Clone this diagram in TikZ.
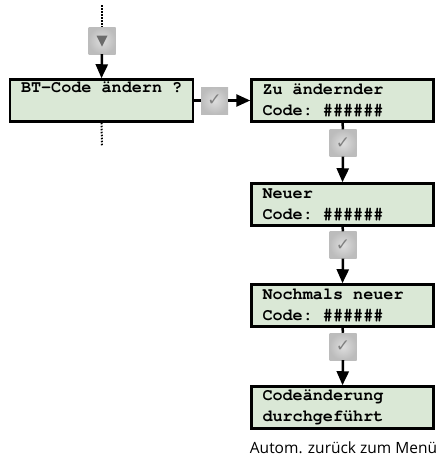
\documentclass[tikz,border=0pt]{standalone}
\usepackage{fontspec}
\usetikzlibrary{arrows.meta,calc}
\newfontfamily\lcdfont{TeX Gyre Cursor}[WordSpace={1,0,0},PunctuationSpace=WordSpace]
\newfontfamily\symfont{DejaVu Sans}
\setmainfont{Open Sans}
\newcommand\msp{\hspace*{0.6em}}
\definecolor{lcdfill}{HTML}{DAE8D6}
\definecolor{keyout}{HTML}{BCBCBC}
\definecolor{keyin}{HTML}{DEDEDE}
\tikzset{
  lcd/.style={draw=black, line width=2.5pt, fill=lcdfill, rectangle, minimum height=42pt,
    text width=160pt, inner xsep=11pt, inner ysep=0pt, align=left,
    font=\lcdfont\bfseries\fontsize{16.8}{21}\selectfont},
  key/.style={rectangle, minimum width=27pt, minimum height=27pt, inner sep=0pt,
    inner color=keyin, outer color=keyout, text=black!50,
    font=\symfont\fontsize{17}{17}\selectfont},
  flow/.style={line width=2.5pt, -{Triangle[width=12pt,length=14pt]}},
  plain/.style={line width=2.5pt},
  dots/.style={line width=2pt, dash pattern=on 1.5pt off 1.5pt}
}
\begin{document}
\begin{tikzpicture}[x=1pt,y=-1pt]
\useasboundingbox (0,0) rectangle (440,459);
\coordinate (top) at (102,5);
\coordinate (bot) at (102,146);
\node[key] (k0) at (102,40.5) {};
\fill[black!58] ($(k0)+(-5.5,-5)$) -- ($(k0)+(5.5,-5)$) -- ($(k0)+(0,6)$) -- cycle;
\node[lcd, text width=161pt] (b1) at (101.5,100.5) {\mbox{BT-Code\msp ändern\msp ?}\\\strut};
\node[key] (k1) at (214.5,100.5) {✓};
\node[lcd] (b2) at (342.5,100.5) {\mbox{Zu\msp ändernder}\\\mbox{Code:\msp\#\#\#\#\#\#}};
\node[key] (k2) at (343,143) {✓};
\node[lcd] (b3) at (342.5,204.5) {Neuer\\\mbox{Code:\msp\#\#\#\#\#\#}};
\node[key] (k3) at (343,245) {✓};
\node[lcd] (b4) at (342.5,305.5) {\mbox{Nochmals\msp neuer}\\\mbox{Code:\msp\#\#\#\#\#\#}};
\node[key] (k4) at (343,346.5) {✓};
\node[lcd] (b5) at (342.5,407.5) {Codeänderung\\durchgeführt};
\node[font=\fontsize{15.5}{18}\selectfont, inner sep=0pt] (cap) at (343.5,448) {Autom. zurück zum Menü};
\draw[dots] (top) -- (k0.north);
\draw[flow] (k0.south) -- (b1.north);
\draw[dots] (b1.south) -- (bot);
\draw[plain] (b1.east) -- (k1.west);
\draw[flow] (k1.east) -- (b2.west);
\draw[plain] (b2.south) -- (k2.north);
\draw[flow] (k2.south) -- (b3.north);
\draw[plain] (b3.south) -- (k3.north);
\draw[flow] (k3.south) -- (b4.north);
\draw[plain] (b4.south) -- (k4.north);
\draw[flow] (k4.south) -- (b5.north);
\end{tikzpicture}
\end{document}
